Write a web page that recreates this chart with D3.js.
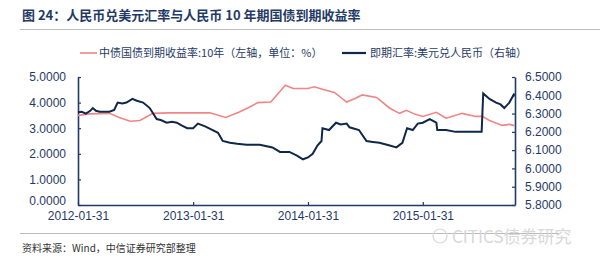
<!DOCTYPE html>
<html>
<head>
<meta charset="utf-8">
<script src="https://cdn.jsdelivr.net/npm/d3@7"></script>
<style>
  body { margin: 0; background: #fff; }
  svg { display: block; font-family: "Liberation Sans", Arial, "Noto Sans CJK SC", sans-serif; }
</style>
</head>
<body>
<div id="chart"></div>
<script>
// 10Y government bond yield (left axis, %)
const yieldDates = ["2012-01-31","2012-03-08","2012-05-10","2012-06-10","2012-07-15","2012-08-15","2012-09-25",
  "2012-11-15","2013-01-31","2013-03-25","2013-05-15","2013-06-25","2013-07-25","2013-08-25","2013-10-05",
  "2013-11-20","2013-12-15","2014-01-31","2014-02-20","2014-03-18","2014-04-25","2014-06-03","2014-06-28",
  "2014-07-22","2014-09-06","2014-10-18","2014-11-18","2014-12-10","2015-01-05","2015-01-31","2015-03-15",
  "2015-04-15","2015-06-05","2015-07-18","2015-08-08","2015-08-31","2015-10-10","2015-11-02","2015-11-18"];
const yieldValues = [3.50,3.56,3.58,3.42,3.27,3.30,3.58,
  3.60,3.60,3.60,3.42,3.62,3.80,4.00,4.02,
  4.68,4.55,4.55,4.62,4.52,4.40,4.02,4.15,
  4.30,4.20,3.78,3.58,3.70,3.55,3.46,3.62,
  3.39,3.58,3.46,3.46,3.30,3.11,3.15,3.10];

// spot USD/CNY (right axis)
const fxDates = ["2012-01-31","2012-02-12","2012-02-25","2012-03-10","2012-03-18","2012-03-28","2012-04-09",
  "2012-05-10","2012-05-25","2012-06-05","2012-06-20","2012-07-03",
  "2012-07-22","2012-08-05","2012-08-25","2012-09-15","2012-10-07","2012-10-20","2012-11-08","2012-11-25",
  "2012-12-10","2012-12-25","2013-01-12","2013-01-31",
  "2013-02-15","2013-03-10","2013-04-03","2013-04-20","2013-05-05","2013-05-28","2013-06-20","2013-07-20",
  "2013-08-31","2013-10-10","2013-11-03",
  "2013-12-03","2013-12-27","2014-01-15","2014-01-31","2014-02-15","2014-03-02","2014-03-15","2014-03-18",
  "2014-04-08","2014-04-30","2014-05-15","2014-06-03","2014-06-12","2014-07-12","2014-08-05","2014-08-25",
  "2014-09-15","2014-10-18","2014-11-08","2014-11-27","2014-12-12","2014-12-30","2015-01-15","2015-01-31",
  "2015-02-22","2015-03-15","2015-03-18","2015-04-15","2015-05-15","2015-08-06","2015-08-11","2015-08-31",
  "2015-09-21","2015-10-05","2015-10-17","2015-11-02","2015-11-18"];
const fxValues = [6.307,6.31,6.30,6.315,6.33,6.315,6.31,
  6.31,6.32,6.36,6.355,6.36,
  6.38,6.37,6.36,6.33,6.27,6.265,6.25,6.255,
  6.25,6.235,6.22,6.22,
  6.245,6.23,6.21,6.195,6.15,6.14,6.135,6.13,
  6.13,6.115,6.09,
  6.09,6.07,6.05,6.06,6.08,6.125,6.15,6.22,
  6.21,6.25,6.24,6.245,6.225,6.21,6.15,6.145,
  6.14,6.125,6.115,6.14,6.22,6.21,6.245,6.25,
  6.27,6.25,6.21,6.21,6.20,6.20,6.41,6.38,
  6.36,6.35,6.33,6.36,6.41];

const xTickLabels = ["2012-01-31","2013-01-31","2014-01-31","2015-01-31"];
const leftTicks = [0,1,2,3,4,5];
const rightTicks = [5.8,5.9,6.0,6.1,6.2,6.3,6.4,6.5];

const titleText = "图 24：人民币兑美元汇率与人民币 10 年期国债到期收益率";
const legendNames = ["中债国债到期收益率:10年（左轴，单位：%）", "即期汇率:美元兑人民币（右轴）"];
const sourceText = "资料来源：Wind，中信证券研究部整理";

const W = 600, H = 261;
const margin = {top: 77, right: 85, bottom: 56, left: 78};
const navy = "#1f3a66";
const parse = d3.timeParse("%Y-%m-%d");

const svg = d3.select("#chart").append("svg")
  .attr("width", W).attr("height", H);

// title + rule
svg.append("text").attr("x", 22).attr("y", 20)
  .attr("font-family", "'Noto Sans CJK SC', sans-serif")
  .attr("font-size", 13).attr("font-weight", "bold").attr("fill", navy)
  .text(titleText);
svg.append("line").attr("x1", 20).attr("x2", 600).attr("y1", 29.5).attr("y2", 29.5)
  .attr("stroke", "#bbb").attr("stroke-width", 1);

const x = d3.scaleTime()
  .domain([parse("2012-01-31"), parse("2015-11-20")])
  .range([margin.left, W - margin.right]);
const yL = d3.scaleLinear().domain([0, 5]).range([H - margin.bottom, margin.top]);
const yR = d3.scaleLinear().domain([5.8, 6.5]).range([H - margin.bottom, margin.top]);

// axes
const gx = svg.append("g").attr("transform", `translate(0,${H - margin.bottom})`)
  .call(d3.axisBottom(x).tickValues(xTickLabels.map(parse))
    .tickFormat(d3.timeFormat("%Y-%m-%d")).tickSizeInner(-3).tickSizeOuter(0).tickPadding(4));
const gl = svg.append("g").attr("transform", `translate(${margin.left},0)`)
  .call(d3.axisLeft(yL).tickValues(leftTicks).tickFormat(d3.format(".4f"))
    .tickSizeInner(-3).tickSizeOuter(0).tickPadding(12));
const gr = svg.append("g").attr("transform", `translate(${W - margin.right},0)`)
  .call(d3.axisRight(yR).tickValues(rightTicks).tickFormat(d3.format(".4f"))
    .tickSizeInner(-3).tickSizeOuter(0).tickPadding(10));

[gx, gl, gr].forEach(g => {
  g.select(".domain").attr("stroke", navy).attr("stroke-width", 1.6);
  g.selectAll(".tick line").attr("stroke", navy).attr("stroke-width", 1.2);
  g.selectAll(".tick text").attr("fill", navy).attr("font-size", 12)
    .attr("font-family", "'Liberation Sans', Arial, sans-serif");
});
gx.selectAll(".tick text").attr("dy", "0.95em");
gl.selectAll(".tick text").filter(d => d === 0).attr("dy", "-0.05em");

// lines
const yieldData = yieldDates.map((d, i) => [parse(d), yieldValues[i]]);
const fxData = fxDates.map((d, i) => [parse(d), fxValues[i]]);

svg.append("path").datum(yieldData)
  .attr("fill", "none").attr("stroke", "#f08585").attr("stroke-width", 1.6)
  .attr("d", d3.line().x(d => x(d[0])).y(d => yL(d[1])));
svg.append("path").datum(fxData)
  .attr("fill", "none").attr("stroke", "#0f2748").attr("stroke-width", 2)
  .attr("d", d3.line().x(d => x(d[0])).y(d => yR(d[1])));

// legend
const legend = [
  {x1: 80, x2: 97, tx: 99, color: "#f08585", w: 1.6, name: legendNames[0]},
  {x1: 342, x2: 366, tx: 370, color: "#0f2748", w: 2.2, name: legendNames[1]}
];
legend.forEach(l => {
  svg.append("line").attr("x1", l.x1).attr("x2", l.x2).attr("y1", 53).attr("y2", 53)
    .attr("stroke", l.color).attr("stroke-width", l.w);
  svg.append("text").attr("x", l.tx).attr("y", 57)
    .attr("font-family", "'Noto Sans CJK SC', sans-serif")
    .attr("font-size", 11).attr("fill", navy).text(l.name);
});

// footer
svg.append("line").attr("x1", 20).attr("x2", 560).attr("y1", 233.5).attr("y2", 233.5)
  .attr("stroke", "#bbb").attr("stroke-width", 1);
svg.append("text").attr("x", 22).attr("y", 252)
  .attr("font-family", "'Noto Sans CJK SC', sans-serif")
  .attr("font-size", 10).attr("fill", "#333").text(sourceText);
svg.append("text").attr("x", 452).attr("y", 243)
  .attr("font-family", "'Noto Sans CJK SC', sans-serif")
  .attr("font-size", 17).attr("fill", "#d8d8d8").text("CITICS债券研究");
svg.append("circle").attr("cx", 440).attr("cy", 236).attr("r", 7)
  .attr("fill", "none").attr("stroke", "#d8d8d8").attr("stroke-width", 1.2);
</script>
</body>
</html>
